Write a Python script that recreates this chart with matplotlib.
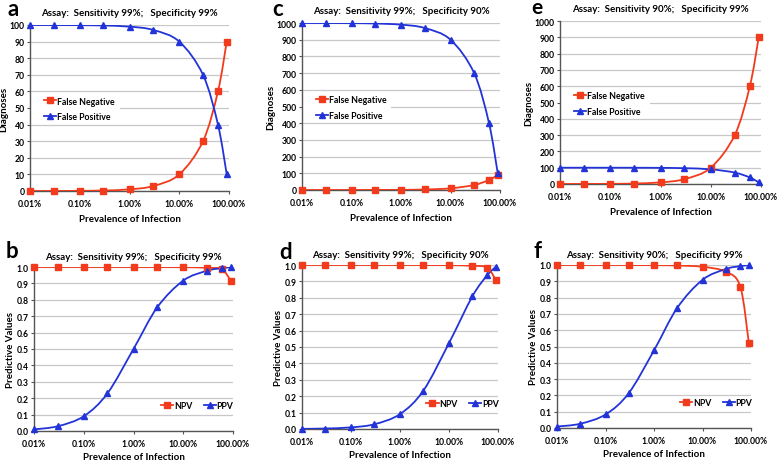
import numpy as np
import matplotlib.pyplot as plt
from matplotlib.path import Path
from matplotlib.patches import PathPatch, Rectangle
from matplotlib.lines import Line2D

plt.rcParams['font.family'] = ['Lato', 'DejaVu Sans']
plt.rcParams['font.weight'] = 'bold'

# prevalence of infection (%)
prev = [0.01, 0.03, 0.1, 0.3, 1, 3, 10, 30, 60, 90]

# diagnoses (per 10,000)
fn_a = [0.01, 0.03, 0.1, 0.3, 1, 3, 10, 30, 60, 90]
fp_a = [99.99, 99.97, 99.9, 99.7, 99, 97, 90, 70, 40, 10]
fn_c = [0.01, 0.03, 0.1, 0.3, 1, 3, 10, 30, 60, 90]
fp_c = [999.9, 999.7, 999, 997, 990, 970, 900, 700, 400, 100]
fn_e = [0.1, 0.3, 1, 3, 10, 30, 100, 300, 600, 900]
fp_e = [99.99, 99.97, 99.9, 99.7, 99, 97, 90, 70, 40, 10]

# predictive values
npv_b = [1.0, 1.0, 1.0, 1.0, 0.9999, 0.9997, 0.9989, 0.9957, 0.985, 0.917]
ppv_b = [0.0098, 0.029, 0.090, 0.230, 0.500, 0.754, 0.917, 0.977, 0.993, 0.999]
npv_d = [1.0, 1.0, 1.0, 1.0, 0.9999, 0.9997, 0.9989, 0.9953, 0.984, 0.909]
ppv_d = [0.001, 0.003, 0.010, 0.029, 0.091, 0.234, 0.524, 0.809, 0.937, 0.989]
npv_f = [1.0, 1.0, 1.0, 0.9997, 0.999, 0.997, 0.989, 0.959, 0.868, 0.524]
ppv_f = [0.009, 0.026, 0.083, 0.213, 0.476, 0.736, 0.909, 0.975, 0.993, 0.999]

titles = {
    'a': 'Assay:  Sensitivity 99%;   Specificity 99%',
    'b': 'Assay:  Sensitivity 99%;   Specificity 99%',
    'c': 'Assay:  Sensitivity 99%;   Specificity 90%',
    'd': 'Assay:  Sensitivity 99%;   Specificity 90%',
    'e': 'Assay:  Sensitivity 90%;   Specificity 99%',
    'f': 'Assay:  Sensitivity 90%;   Specificity 99%',
}

RED = '#f23a1c'
BLUE = '#2233d8'
W, H = 778, 464


def smooth_line(ax, x, y, color, marker, label):
    # excel-like smoothed line: catmull-rom bezier in (log x, y) space
    lx = np.log10(np.asarray(x, float))
    y = np.asarray(y, float)
    pts = np.column_stack([lx, y])
    n = len(pts)
    verts = [pts[0]]
    codes = [Path.MOVETO]
    for i in range(n - 1):
        p0 = pts[max(i - 1, 0)]
        p1 = pts[i]
        p2 = pts[i + 1]
        p3 = pts[min(i + 2, n - 1)]
        c1 = p1 + (p2 - p0) / 6
        c2 = p2 - (p3 - p1) / 6
        verts += [c1, c2, p2]
        codes += [Path.CURVE4] * 3
    verts = np.array(verts)
    verts[:, 0] = 10 ** verts[:, 0]
    ax.add_patch(PathPatch(Path(verts, codes), fill=False, edgecolor=color, lw=1.3, zorder=3))
    ax.plot(x, y, ls='none', marker=marker, color=color, ms=3.8, zorder=4, clip_on=False)
    return Line2D([], [], color=color, marker=marker, ms=3.8, lw=1.3, label=label)


def axes_px(fig, left, right, top, bottom):
    return fig.add_axes([left / W, 1 - bottom / H, (right - left) / W, (bottom - top) / H])


def style(ax, ymax, ystep, ylabel, fmt, xpad):
    ax.set_xscale('log')
    ax.set_xlim(0.01, 100)
    ax.set_ylim(0, ymax)
    ax.set_xticks([0.01, 0.1, 1, 10, 100])
    ax.set_xticklabels(['0.01%', '0.10%', '1.00%', '10.00%', '100.00%'])
    ax.minorticks_off()
    yt = np.arange(0, ymax + ystep / 2, ystep)
    ax.set_yticks(yt)
    ax.set_yticklabels([fmt.format(v) for v in yt])
    ax.tick_params(axis='both', labelsize=6.2, length=2.5, width=0.8, color='#555555', pad=1.5)
    ax.tick_params(axis='x', pad=3.5)
    ax.grid(axis='y', color='#c8c8c8', lw=0.9)
    ax.set_axisbelow(True)
    for s in ['top', 'right']:
        ax.spines[s].set_visible(False)
    for s in ['left', 'bottom']:
        ax.spines[s].set_color('#555555')
        ax.spines[s].set_linewidth(1.0)
    ax.set_xlabel('Prevalence of Infection', fontsize=7, fontweight='bold', labelpad=xpad)
    ax.set_ylabel(ylabel, fontsize=7, fontweight='bold', labelpad=1)


fig = plt.figure(figsize=(W / 100, H / 100), dpi=100)

panels = [
    ('a', (30, 229, 26, 192), 'top', fn_a, fp_a, 100, 10, (8, 10)),
    ('c', (302, 500, 24, 191), 'top', fn_c, fp_c, 1000, 100, (272, 10)),
    ('e', (560, 761, 22, 185), 'top', fn_e, fp_e, 1000, 100, (531, 8.5)),
    ('b', (34, 233, 268, 432), 'bot', npv_b, ppv_b, 1.0, 0.1, (6, 252)),
    ('d', (302, 498, 266, 430), 'bot', npv_d, ppv_d, 1.0, 0.1, (279, 253)),
    ('f', (557, 751, 266, 429), 'bot', npv_f, ppv_f, 1.0, 0.1, (533, 252)),
]

for key, (l, r, t, b), kind, s1, s2, ymax, ystep, (lx, ly) in panels:
    ax = axes_px(fig, l, r, t, b)
    if kind == 'top':
        style(ax, ymax, ystep, 'Diagnoses', '{:.0f}', 4)
        h1 = smooth_line(ax, prev, s1, RED, 's', 'False Negative')
        h2 = smooth_line(ax, prev, s2, BLUE, '^', 'False Positive')
        # white legend background hides the middle gridline
        ax.add_patch(Rectangle((0, 0.47), 0.45, 0.06, transform=ax.transAxes,
                               facecolor='white', edgecolor='none', zorder=1))
        leg = ax.legend(handles=[h1, h2], loc='center left', bbox_to_anchor=(0.07, 0.495),
                        fontsize=6.3, frameon=False, handlelength=1.4, handletextpad=0.1,
                        borderaxespad=0.0, borderpad=0.0, labelspacing=0.75)
    else:
        style(ax, ymax, ystep, 'Predictive Values', '{:.1f}', 3)
        h1 = smooth_line(ax, prev, s1, RED, 's', 'NPV')
        h2 = smooth_line(ax, prev, s2, BLUE, '^', 'PPV')
        leg = ax.legend(handles=[h1, h2], loc='center', bbox_to_anchor=(0.82, 0.157),
                        fontsize=6.3, frameon=False, ncol=2, handlelength=1.4,
                        handletextpad=0.1, columnspacing=1.3, borderpad=0.2)
    leg.set_zorder(2.5)
    for txt in leg.get_texts():
        txt.set_fontweight('bold')
    ax.set_title(titles[key], fontsize=7, fontweight='bold', pad=7 if kind == 'top' else 5.5)
    fig.text(lx / W, 1 - ly / H, key, fontsize=15 if key == 'e' else 16,
             fontweight='bold', ha='left', va='center')

fig.savefig('out.png', dpi=100)
